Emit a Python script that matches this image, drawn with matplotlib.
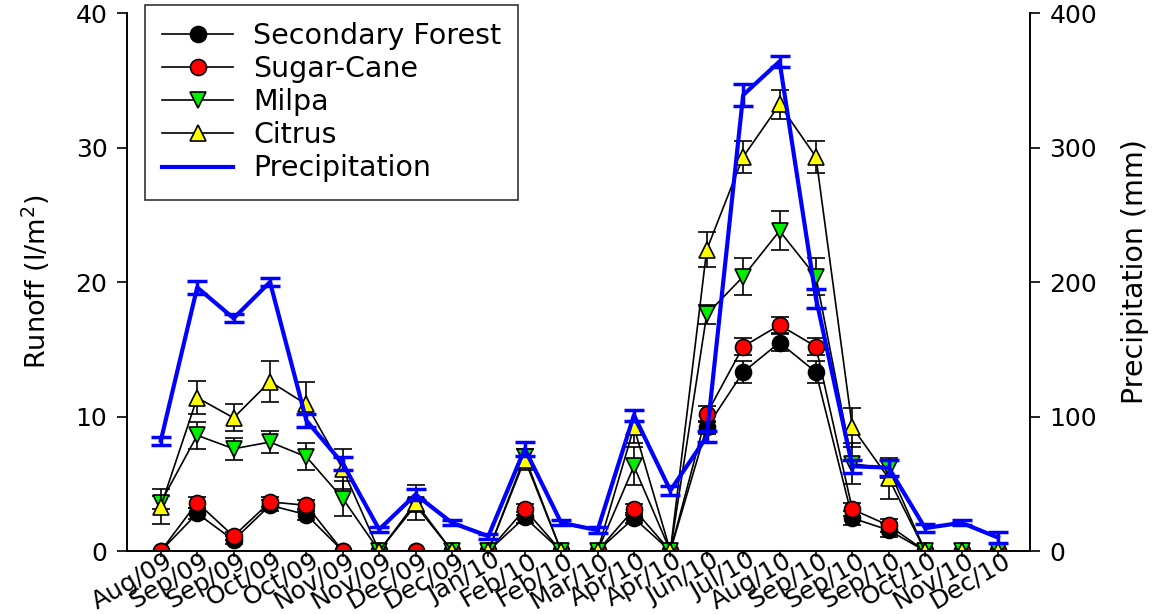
import numpy as np
import matplotlib
matplotlib.use('Agg')
import matplotlib.pyplot as plt
from matplotlib.transforms import ScaledTranslation

plt.rcParams['font.family'] = ['DejaVu Sans']

months = ['Aug/09', 'Sep/09', 'Sep/09', 'Oct/09', 'Oct/09', 'Nov/09', 'Nov/09', 'Dec/09',
          'Dec/09', 'Jan/10', 'Feb/10', 'Feb/10', 'Mar/10', 'Apr/10', 'Apr/10', 'Jun/10',
          'Jul/10', 'Aug/10', 'Sep/10', 'Sep/10', 'Sep/10', 'Oct/10', 'Nov/10', 'Dec/10']

# runoff (l/m2)
forest = [0, 2.8, 0.8, 3.4, 2.7, 0, 0, 0, 0, 0, 2.5, 0, 0, 2.45, 0, 9.2,
          13.3, 15.5, 13.3, 2.45, 1.55, 0, 0, 0]
forest_err = [0, 0.4, 0.3, 0.4, 0.4, 0, 0, 0, 0, 0, 0.4, 0, 0, 0.4, 0, 0.5,
              0.8, 0.6, 0.8, 0.5, 0.5, 0, 0, 0]
cane = [0, 3.6, 1.1, 3.65, 3.4, 0, 0, 0, 0, 0, 3.1, 0, 0, 3.1, 0, 10.2,
        15.2, 16.8, 15.2, 3.1, 1.9, 0, 0, 0]
cane_err = [0, 0.4, 0.3, 0.4, 0.4, 0, 0, 0, 0, 0, 0.4, 0, 0, 0.4, 0, 0.6,
            0.6, 0.6, 0.6, 0.5, 0.5, 0, 0, 0]
milpa = [3.6, 8.6, 7.6, 8.1, 7.0, 3.9, 0, 3.4, 0, 0, 7.0, 0, 0, 6.3, 0, 17.6,
         20.4, 23.8, 20.4, 6.5, 6.1, 0, 0, 0]
milpa_err = [0.5, 1.0, 0.8, 0.85, 1.0, 1.3, 0, 0.5, 0, 0, 0.6, 0, 0, 1.4, 0, 0.7,
             1.4, 1.45, 1.4, 1.5, 0.7, 0, 0, 0]
citrus = [3.3, 11.4, 9.9, 12.6, 10.9, 6.1, 0, 3.6, 0, 0, 6.8, 0, 0, 9.2, 0, 22.4,
          29.3, 33.2, 29.3, 9.2, 5.4, 0, 0, 0]
citrus_err = [1.3, 1.25, 1.0, 1.5, 1.7, 1.5, 0, 1.3, 0, 0, 0.8, 0, 0, 1.2, 0, 1.3,
              1.2, 1.1, 1.2, 1.45, 1.5, 0, 0, 0]

# precipitation (mm)
precip = [82, 196, 173, 200, 97, 65, 16, 42, 21, 11, 76, 21, 15.5, 101, 45, 85,
          339, 364, 188, 63, 62, 17, 21, 10]
precip_err = [3, 5, 3, 3, 5, 5, 2, 4, 2, 2, 5, 2, 2, 4, 3, 4,
              8, 4, 7, 5, 6, 3, 2, 4]

x = np.arange(len(months))

fig = plt.figure(figsize=(11.54, 6.14), dpi=100)
ax = fig.add_axes([0.110, 0.1026, 0.7825, 0.8762])
ax2 = ax.twinx()

styles = [
    (forest, forest_err, 'o', 'black', 'Secondary Forest'),
    (cane, cane_err, 'o', 'red', 'Sugar-Cane'),
    (milpa, milpa_err, 'v', '#00ee00', 'Milpa'),
    (citrus, citrus_err, '^', 'yellow', 'Citrus'),
]
handles = []
for vals, err, mk, col, lab in styles:
    ax.errorbar(x, vals, yerr=err, fmt='none', ecolor='black', elinewidth=1.2,
                capsize=6.5, capthick=1.2)
    h, = ax.plot(x, vals, color='black', lw=1.2, marker=mk, markersize=11.5,
                 markerfacecolor=col, markeredgecolor='black', markeredgewidth=1.2,
                 label=lab)
    handles.append(h)

ax2.errorbar(x, precip, yerr=precip_err, fmt='none', ecolor='#0000ff', elinewidth=2.5,
             capsize=7, capthick=2.5)
hp, = ax2.plot(x, precip, color='#0000ff', lw=3, label='Precipitation')
handles.append(hp)

ax.set_xlim(-0.93, 23.88)
ax.set_ylim(0, 40)
ax2.set_ylim(0, 400)
ax.set_yticks([0, 10, 20, 30, 40])
ax2.set_yticks([0, 100, 200, 300, 400])
ax.set_xticks(x)
ax.set_xticklabels(months, rotation=30, ha='right', va='top',
                   rotation_mode='anchor', fontsize=12)

for a in (ax, ax2):
    a.spines['top'].set_visible(False)
    a.tick_params(direction='out', length=7, width=1.2, labelsize=18, pad=7)
    for s in a.spines.values():
        s.set_linewidth(1.2)
ax.tick_params(axis='x', length=4, pad=0)

# nudge the rotated month labels up/right like the original
shift = ScaledTranslation(3 / 72, 6 / 72, fig.dpi_scale_trans)
for lbl in ax.get_xticklabels():
    lbl.set_transform(lbl.get_transform() + shift)

ax.set_ylabel('Runoff (l/m$^2$)', fontsize=19.5, labelpad=17)
ax2.set_ylabel('Precipitation (mm)', fontsize=20.5)
ax2.yaxis.set_label_coords(1.101, 0.52)

leg = fig.legend(handles=handles, loc='upper left', bbox_to_anchor=(0.1257, 0.992),
                 fontsize=20.5, frameon=True, fancybox=False, edgecolor='black',
                 handlelength=2.5, handletextpad=0.7, labelspacing=0.18,
                 borderpad=0.6, borderaxespad=0)
leg.get_frame().set_linewidth(1.2)

fig.savefig('out.png', dpi=100)
